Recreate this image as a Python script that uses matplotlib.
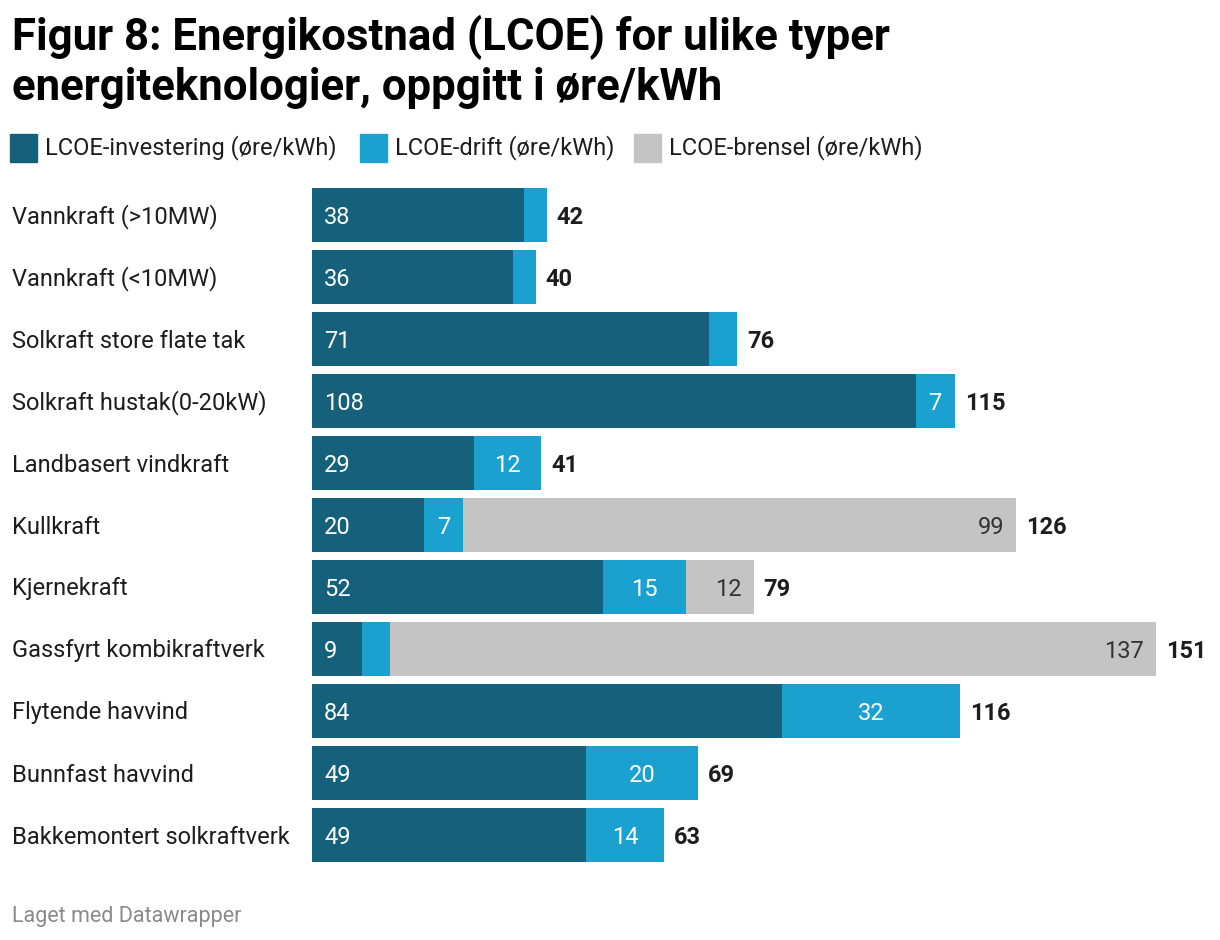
import numpy as np
import matplotlib.pyplot as plt

plt.rcParams['font.family'] = ['Roboto', 'DejaVu Sans']

# Data
kategorier = ['Vannkraft (>10MW)', 'Vannkraft (<10MW)', 'Solkraft store flate tak',
              'Solkraft hustak(0-20kW)', 'Landbasert vindkraft', 'Kullkraft',
              'Kjernekraft', 'Gassfyrt kombikraftverk', 'Flytende havvind',
              'Bunnfast havvind', 'Bakkemontert solkraftverk']
investering = [38, 36, 71, 108, 29, 20, 52, 9, 84, 49, 49]
drift = [4, 4, 5, 7, 12, 7, 15, 5, 32, 20, 14]
brensel = [0, 0, 0, 0, 0, 99, 12, 137, 0, 0, 0]
serier = ['LCOE-investering (øre/kWh)', 'LCOE-drift (øre/kWh)', 'LCOE-brensel (øre/kWh)']
farger = ['#15607a', '#1aa1cf', '#c4c4c4']

W, H = 1220, 940
fig = plt.figure(figsize=(W / 100, H / 100), dpi=100)
ax = fig.add_axes([312 / W, 1 - 866 / H, 844 / W, 682 / H])

y = np.arange(len(kategorier))
inv = np.array(investering)
dr = np.array(drift)
br = np.array(brensel)
tot = inv + dr + br

ax.barh(y, inv, height=0.87, color=farger[0])
ax.barh(y, dr, left=inv, height=0.87, color=farger[1])
ax.barh(y, br, left=inv + dr, height=0.87, color=farger[2])

ax.set_xlim(0, 151)
ax.set_ylim(len(kategorier) - 0.5, -0.5)
ax.axis('off')

px = 0.72  # 1 px i punkter
fs = 17
dy = -8.5 * px  # grunnlinje under midten
for i in range(len(kategorier)):
    if inv[i] >= 6:
        ax.annotate(str(inv[i]), (0, i), xytext=(12 * px, dy), textcoords='offset points',
                    ha='left', va='baseline', color='white', fontsize=fs)
    if dr[i] >= 6:
        ax.annotate(str(dr[i]), (inv[i] + dr[i] / 2, i), xytext=(0, dy), textcoords='offset points',
                    ha='center', va='baseline', color='white', fontsize=fs)
    if br[i] >= 6:
        ax.annotate(str(br[i]), (tot[i], i), xytext=(-12 * px, dy), textcoords='offset points',
                    ha='right', va='baseline', color='#333333', fontsize=fs)
    ax.annotate(str(tot[i]), (tot[i], i), xytext=(10 * px, dy), textcoords='offset points',
                ha='left', va='baseline', color='#1d1d1d', fontsize=fs, fontweight='bold')
    # kategorinavn
    yy = 215 + 62 * i + 8.5
    fig.text(12 / W, 1 - yy / H, kategorier[i], ha='left', va='baseline',
             color='#1d1d1d', fontsize=fs)

# Tittel
fig.text(12 / W, 1 - 50 / H, 'Figur 8: Energikostnad (LCOE) for ulike typer',
         ha='left', va='baseline', fontsize=31.5, fontweight='bold', color='#000000')
fig.text(12 / W, 1 - 100 / H, 'energiteknologier, oppgitt i øre/kWh',
         ha='left', va='baseline', fontsize=31.5, fontweight='bold', color='#000000')

# Forklaring
leg_x = [10, 360, 634]
for x0, navn, f in zip(leg_x, serier, farger):
    fig.patches.append(plt.Rectangle((x0 / W, 1 - 162 / H), 27 / W, 28 / H,
                                     transform=fig.transFigure, color=f))
    fig.text((x0 + 35) / W, 1 - 154 / H, navn, ha='left', va='baseline',
             fontsize=fs, color='#1d1d1d')

fig.text(12 / W, 1 - 922 / H, 'Laget med Datawrapper', ha='left', va='baseline',
         fontsize=15.5, color='#8a8a8a')

fig.savefig('out.png', dpi=100)
